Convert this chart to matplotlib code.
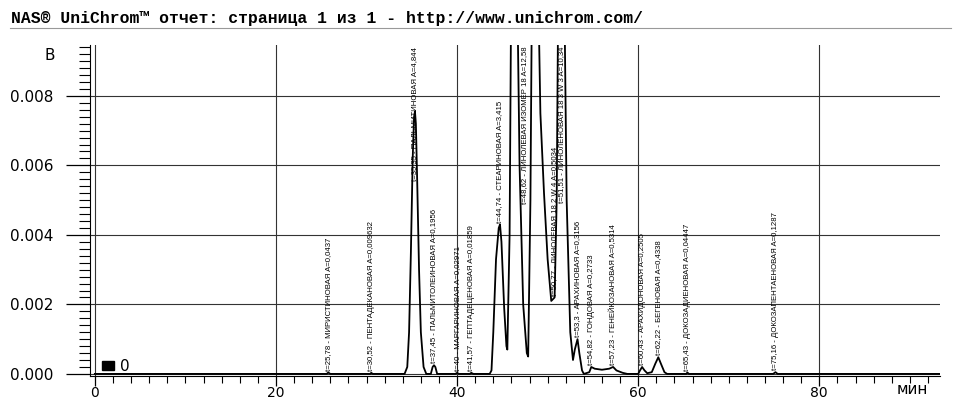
import numpy as np
import matplotlib
matplotlib.use("Agg")
import matplotlib.pyplot as plt
from matplotlib.patches import Patch
from matplotlib.lines import Line2D
from matplotlib.ticker import MultipleLocator

# chromatogram trace (time in min, signal in V)
trace_t = [0, 25.6, 25.78, 26.0, 30.4, 30.52, 30.7, 34.2, 34.5, 34.7, 34.9, 35.1, 35.25, 35.35,
           35.45, 35.6, 35.8, 36.0, 36.3, 36.6, 37.1, 37.3, 37.45, 37.6, 37.8, 39.8, 40.0, 40.2,
           41.4, 41.57, 41.8, 43.6, 43.8, 44.0, 44.3, 44.6, 44.74, 44.9, 45.2, 45.45, 45.55,
           45.8, 46.0, 46.3, 46.6, 46.9, 47.3, 47.7, 47.85, 48.1, 48.35, 48.62, 48.9, 49.2,
           49.6, 50.0, 50.4, 50.77, 51.0, 51.2, 51.51, 51.8, 52.1, 52.5, 52.8, 53.0, 53.3,
           53.5, 53.8, 54.0, 54.6, 54.82, 55.2, 56.0, 56.8, 57.23, 57.6, 58.3, 58.8, 60.0,
           60.2, 60.43, 60.7, 61.0, 61.5, 61.9, 62.22, 62.5, 62.9, 63.2, 65.3, 65.43, 65.6,
           74.9, 75.16, 75.4, 93.3]
trace_v = [0, 0, 0.00004, 0, 0, 0.00003, 0, 0, 0.0002, 0.0012, 0.0035, 0.0062, 0.0074, 0.00755,
           0.0072, 0.0055, 0.003, 0.0012, 0.0002, 0, 0, 0.0002, 0.00025, 0.0002, 0, 0, 0.00003, 0,
           0, 0.00003, 0, 0, 0.0001, 0.0012, 0.0033, 0.0042, 0.0043, 0.0038, 0.0019, 0.0008, 0.0007,
           0.004, 0.012, 0.02, 0.012, 0.006, 0.002, 0.0006, 0.0005, 0.005, 0.014, 0.02, 0.012, 0.0075,
           0.0052, 0.0033, 0.0021, 0.0022, 0.005, 0.012, 0.02, 0.012, 0.005, 0.0012, 0.0004, 0.0007, 0.001,
           0.0006, 0.0001, 0, 0.00005, 0.0002, 0.00015, 0.00012, 0.00015, 0.0002, 0.0001, 0.00003, 0, 0,
           0.0001, 0.0002, 0.0001, 0.00002, 0.00005, 0.0003, 0.00048, 0.0003, 0.00005, 0, 0, 0.00004, 0,
           0, 0.00005, 0, 0]

peak_t = [25.78, 30.52, 35.35, 37.45, 40.0, 41.57, 44.74, 48.62, 50.77, 51.51,
          53.3, 54.82, 57.23, 60.43, 62.22, 65.43, 75.16]
peak_t_text = ["25,78", "30,52", "35,35", "37,45", "40", "41,57", "44,74", "48,62", "50,77",
               "51,51", "53,3", "54,82", "57,23", "60,43", "62,22", "65,43", "75,16"]
peak_names = ["МИРИСТИНОВАЯ", "ПЕНТАДЕКАНОВАЯ", "ПАЛЬМИТИНОВАЯ", "ПАЛЬМИТОЛЕИНОВАЯ",
              "МАРГАРИНОВАЯ", "ГЕПТАДЕЦЕНОВАЯ", "СТЕАРИНОВАЯ", "ЛИНОЛЕВАЯ ИЗОМЕР 18",
              "ЛИНОЛЕВАЯ 18 2 W 4", "ЛИНОЛЕНОВАЯ 18 3 W 3", "АРАХИНОВАЯ", "ГОНДОВАЯ",
              "ГЕНЕЙКОЗАНОВАЯ", "АРАХИДОНОВАЯ", "БЕГЕНОВАЯ", "ДОКОЗАДИЕНОВАЯ",
              "ДОКОЗАПЕНТАЕНОВАЯ"]
peak_areas = ["0,0437", "0,009632", "4,844", "0,1956", "0,02971", "0,01859", "3,415", "12,58",
              "0,5034", "10,34", "0,3156", "0,2733", "0,5314", "0,2505", "0,4338", "0,04447",
              "0,1287"]

ymax = 0.00946

fig = plt.figure(figsize=(9.56, 4.03), dpi=100)
ax = fig.add_axes([0.094, 0.067, 0.889, 0.821])

fig.text(0.011, 0.955, "NAS® UniChrom™ отчет: страница 1 из 1 - http://www.unichrom.com/",
         family="Liberation Mono", weight="bold", fontsize=11.8, va="center")
fig.add_artist(Line2D([0.01, 0.995], [0.93, 0.93], color="#999999", lw=0.8))

ax.plot(trace_t, trace_v, color="black", lw=1.3)

ax.set_xlim(-0.55, 93.3)
ax.set_ylim(-0.00006, ymax)
ax.set_xticks([0, 20, 40, 60, 80])
ax.set_yticks([0, 0.002, 0.004, 0.006, 0.008])
ax.xaxis.set_minor_locator(MultipleLocator(2))
ax.yaxis.set_minor_locator(MultipleLocator(0.0002))
ax.yaxis.set_major_formatter(matplotlib.ticker.FormatStrFormatter("%.3f"))
ax.tick_params(axis="x", which="major", length=7, width=0.9, labelsize=10, pad=0)
ax.tick_params(axis="x", which="minor", length=5, width=0.8)
ax.tick_params(axis="y", which="major", length=17, width=0.9, labelsize=11, pad=9)
ax.tick_params(axis="y", which="minor", length=8, width=0.8)
for s in ["top", "right"]:
    ax.spines[s].set_visible(False)
ax.grid(True, which="major", color="#333333", lw=0.8)

ax.text(-0.047, 0.97, "В", transform=ax.transAxes, fontsize=11, ha="center", va="center")
ax.text(0.968, -0.04, "мин", transform=ax.transAxes, fontsize=11, ha="center", va="center")

ax.legend(handles=[Patch(color="black", label="0")], loc="lower left",
          bbox_to_anchor=(-0.002, -0.035), frameon=False, fontsize=11,
          handlelength=0.8, handleheight=0.6, handletextpad=0.4)

# peak labels, starting at the peak apex
label_h = np.interp(peak_t, trace_t, trace_v)
fig.canvas.draw()
renderer = fig.canvas.get_renderer()
inv = ax.transData.inverted()
for t, tt, nm, ar, h in zip(peak_t, peak_t_text, peak_names, peak_areas, label_h):
    x = t
    if tt == "48,62":
        x = 47.4
    txt = ax.text(x, h + 0.00005, f"t={tt} - {nm} A={ar}", rotation=90, ha="center",
                  va="bottom", fontsize=5.6, family=["Liberation Sans Narrow", "Liberation Sans"],
                  clip_on=False)
    bb = txt.get_window_extent(renderer)
    top = inv.transform((0, bb.y1))[1]
    if top > ymax:
        txt.set_y(h + 0.00005 - (top - ymax) - 0.00005)

fig.savefig("out.png", dpi=100)
